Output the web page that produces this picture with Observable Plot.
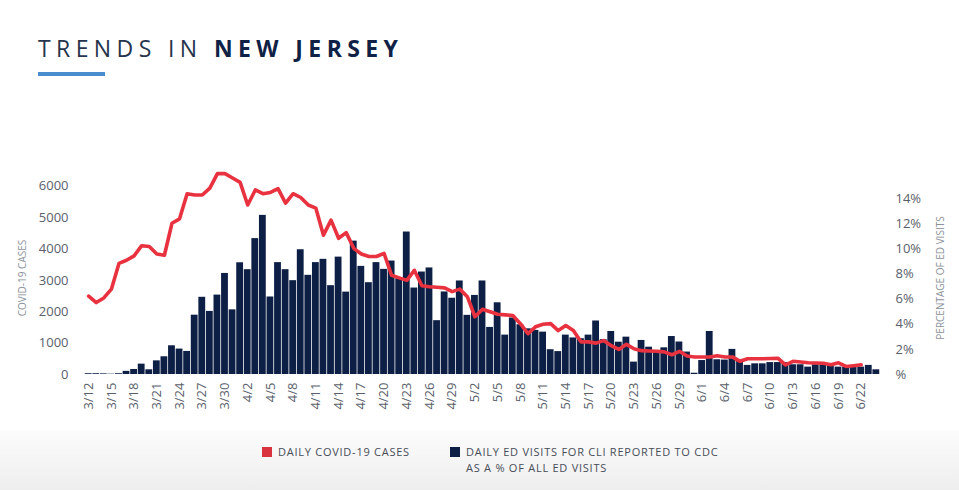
<!DOCTYPE html>
<html>
<head>
<meta charset="utf-8">
<script src="https://cdn.jsdelivr.net/npm/d3@7"></script>
<script src="https://cdn.jsdelivr.net/npm/@observablehq/plot@0.6"></script>
<style>
  body { margin: 0; background: #fff; font-family: "Open Sans", sans-serif; }
  #page { width: 959px; height: 490px; position: relative; overflow: hidden; }
  #header { position: relative; height: 130px; }
  #title { position: absolute; left: 38px; top: 37px; font-size: 23px; line-height: 1; letter-spacing: 5.4px; white-space: nowrap; color: #26344c; }
  #title .light { font-weight: 400; }
  #title .bold { font-weight: 700; color: #0f2246; }
  #rule { position: absolute; left: 38px; top: 72px; width: 67px; height: 4px; background: #4a8dcf; }
  #chart { height: 300px; }
  #legend { position: relative; height: 60px; background: linear-gradient(#fcfcfc, #eeeeee); font-size: 11px; color: #474d57; letter-spacing: 0.75px; }
  .sw { position: absolute; width: 10px; height: 10px; }
  .lt { position: absolute; line-height: 12px; white-space: nowrap; }
</style>
</head>
<body>
<div id="page">
  <div id="header">
    <div id="title"><span class="light">TRENDS IN </span><span class="bold">NEW JERSEY</span></div>
    <div id="rule"></div>
  </div>
  <div id="chart"></div>
  <div id="legend">
    <div class="sw" style="left:262px;top:17px;background:#d9333f"></div>
    <div class="lt" style="left:278px;top:16px">DAILY COVID-19 CASES</div>
    <div class="sw" style="left:450px;top:17px;background:#0d1f45"></div>
    <div class="lt" style="left:466px;top:16px">DAILY ED VISITS FOR CLI REPORTED TO CDC</div>
    <div class="lt" style="left:466px;top:32px">AS A % OF ALL ED VISITS</div>
  </div>
</div>
<script>
// ---- data ----
const startDate = "2020-03-12";
const dayCount = 105; // 3/12 .. 6/24

const cases = [
  25,25,20,10,25,100,160,330,150,435,565,915,810,735,
  1890,2460,2010,2530,3220,2060,3560,
  3340,4330,5070,2470,3565,3340,2990,3975,3160,3565,
  3670,2830,3740,2625,4250,3445,2925,3565,3350,3615,3050,
  4540,2755,3265,3395,1715,2630,2430,2980,1885,2520,2980,1500,2285,1255,
  1800,1585,1455,1405,1350,790,730,1255,1165,1140,1255,1705,
  1110,1370,1030,1190,395,1085,870,765,850,1210,1035,715,40,
  445,1370,470,460,800,445,290,340,340,380,380,380,
  310,310,235,310,310,310,235,235,235,235,290,150
];

const edPct = [
  6.24,5.73,6.1,6.8,8.85,9.1,9.45,10.26,10.2,9.6,9.5,12.05,12.4,14.4,14.3,14.3,14.85,16.0,16.0,15.65,
  15.3,13.5,14.7,14.4,14.5,14.8,13.65,14.4,14.1,13.5,13.25,11.1,12.3,10.85,11.3,10.05,9.6,9.4,9.4,9.65,
  7.9,7.7,7.5,8.3,7.07,6.99,6.95,6.9,6.6,6.8,6.2,4.6,5.2,5.0,4.8,4.75,4.7,4.05,3.25,3.8,
  4.0,4.05,3.5,3.9,3.5,2.6,2.6,2.5,2.7,2.3,2.0,2.4,2.05,1.9,1.87,1.85,1.8,1.57,1.85,1.47,
  1.4,1.4,1.4,1.5,1.4,1.4,1.05,1.25,1.25,1.25,1.27,1.3,0.77,1.05,1.0,0.93,0.92,0.9,0.77,0.93,
  0.64,0.7,0.77
];

const xTickLabels = ["3/12","3/15","3/18","3/21","3/24","3/27","3/30","4/2","4/5","4/8","4/11","4/14","4/17","4/20","4/23","4/26","4/29","5/2","5/5","5/8","5/11","5/14","5/17","5/20","5/23","5/26","5/29","6/1","6/4","6/7","6/10","6/13","6/16","6/19","6/22"];
const leftTicks = [0,1000,2000,3000,4000,5000,6000];
const rightTicks = [0,2,4,6,8,10,12,14];
const leftMax = 6500;
const pctToCases = 400; // 1% on the right axis = 400 cases on the left axis

// ---- build tables ----
const fmt = d3.utcFormat("%-m/%-d");
const start = new Date(startDate + "T00:00:00Z");
const days = d3.range(dayCount).map(i => fmt(d3.utcDay.offset(start, i)));
const barData = days.map((d, i) => ({day: d, cases: cases[i]}));
const lineData = edPct.map((p, i) => ({day: days[i], v: p * pctToCases}));

const chart = Plot.plot({
  width: 959,
  height: 300,
  marginTop: 40,
  marginBottom: 56,
  marginLeft: 84,
  marginRight: 79,
  style: {fontFamily: "'Open Sans', sans-serif", background: "transparent"},
  x: {type: "band", domain: days, padding: 0.1, round: false, axis: null},
  y: {domain: [0, leftMax], axis: null},
  marks: [
    Plot.barY(barData, {x: "day", y: "cases", fill: "#0d1f45"}),
    Plot.line(lineData, {x: "day", y: "v", stroke: "#e8323f", strokeWidth: 3.6, strokeLinejoin: "round", strokeLinecap: "round"}),
    Plot.axisX(xTickLabels, {tickRotate: -90, tickSize: 0, tickPadding: 8, fontSize: 13, color: "#5a606b", label: null}),
    Plot.axisY(leftTicks, {anchor: "left", tickSize: 0, tickPadding: 16, fontSize: 13, color: "#5a606b", tickFormat: d => String(d), label: null}),
    Plot.axisY(rightTicks.map(p => p * pctToCases), {anchor: "right", tickSize: 0, tickPadding: 15, fontSize: 13, color: "#5a606b", tickFormat: v => v === 0 ? "%" : (v / pctToCases) + "%", label: null})
  ]
});
document.getElementById("chart").appendChild(chart);

const svg = d3.select(chart);
svg.append("text")
  .attr("transform", "translate(26,148) rotate(-90)")
  .attr("text-anchor", "middle")
  .attr("font-size", 10)
  .attr("fill", "#8b919b")
  .text("COVID-19 CASES");
svg.append("text")
  .attr("transform", "translate(944,148) rotate(-90)")
  .attr("text-anchor", "middle")
  .attr("font-size", 10)
  .attr("fill", "#8b919b")
  .text("PERCENTAGE OF ED VISITS");
</script>
</body>
</html>
